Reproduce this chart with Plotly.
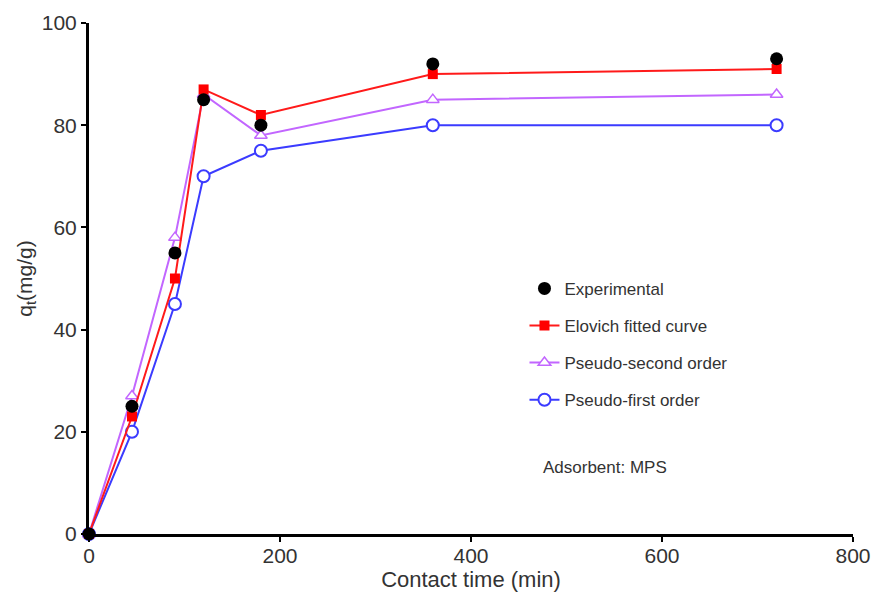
import plotly.graph_objects as go

time_min = [0, 45, 90, 120, 180, 360, 720]
experimental = [0, 25, 55, 85, 80, 92, 93]
elovich = [0, 23, 50, 87, 82, 90, 91]
pseudo_second = [0, 27, 58, 86, 78, 85, 86]
pseudo_first = [0, 20, 45, 70, 75, 80, 80]

FONT = "Liberation Sans, Arial, sans-serif"

fig = go.Figure()
fig.add_trace(go.Scatter(
    x=time_min, y=pseudo_first, mode="lines+markers", name="Pseudo-first order",
    line=dict(color="#3b3bff", width=2),
    marker=dict(symbol="circle", size=12, color="white", line=dict(color="#3b3bff", width=2)),
    legendrank=4, legendgroup="d", cliponaxis=False))
fig.add_trace(go.Scatter(
    x=time_min, y=pseudo_second, mode="lines+markers", name="Pseudo-second order",
    line=dict(color="#c266ff", width=2),
    marker=dict(symbol="triangle-up", size=11, color="white", line=dict(color="#c266ff", width=1.5)),
    legendrank=3, legendgroup="c", cliponaxis=False))
fig.add_trace(go.Scatter(
    x=time_min, y=elovich, mode="lines+markers", name="Elovich fitted curve",
    line=dict(color="#ff1a1a", width=2),
    marker=dict(symbol="square", size=10, color="#ff0000"),
    legendrank=2, legendgroup="b", cliponaxis=False))
fig.add_trace(go.Scatter(
    x=time_min, y=experimental, mode="markers", name="Experimental",
    marker=dict(symbol="circle", size=13, color="black"),
    legendrank=1, legendgroup="a", cliponaxis=False))

axis_common = dict(
    showline=True, linecolor="black", linewidth=3,
    ticks="outside", ticklen=5, tickwidth=2, tickcolor="black",
    showgrid=False, zeroline=False, automargin=False,
    tickfont=dict(family=FONT, size=21, color="#333333"),
)
fig.update_xaxes(range=[0, 800], dtick=200, tick0=0, ticklabelstandoff=-4,
                 title=dict(text="Contact time (min)", font=dict(family=FONT, size=22, color="#333333"), standoff=4),
                 **axis_common)
fig.update_yaxes(range=[0, 100], dtick=20, tick0=0,
                 title=dict(text="q<sub>t</sub>(mg/g)", font=dict(family=FONT, size=21, color="#333333"), standoff=4),
                 **axis_common)

fig.add_annotation(x=0.591, y=0.131, xref="paper", yref="paper", xanchor="left", yanchor="middle",
                   text="Adsorbent: MPS", showarrow=False,
                   font=dict(family=FONT, size=17, color="#333333"))

fig.update_layout(
    width=880, height=602,
    margin=dict(l=89, r=27, t=23, b=68),
    plot_bgcolor="white", paper_bgcolor="white",
    legend=dict(x=0.57, y=0.515, xanchor="left", yanchor="top",
                font=dict(family=FONT, size=17, color="#333333"),
                tracegroupgap=12, bgcolor="rgba(0,0,0,0)"),
)

fig.write_html("out.html")
